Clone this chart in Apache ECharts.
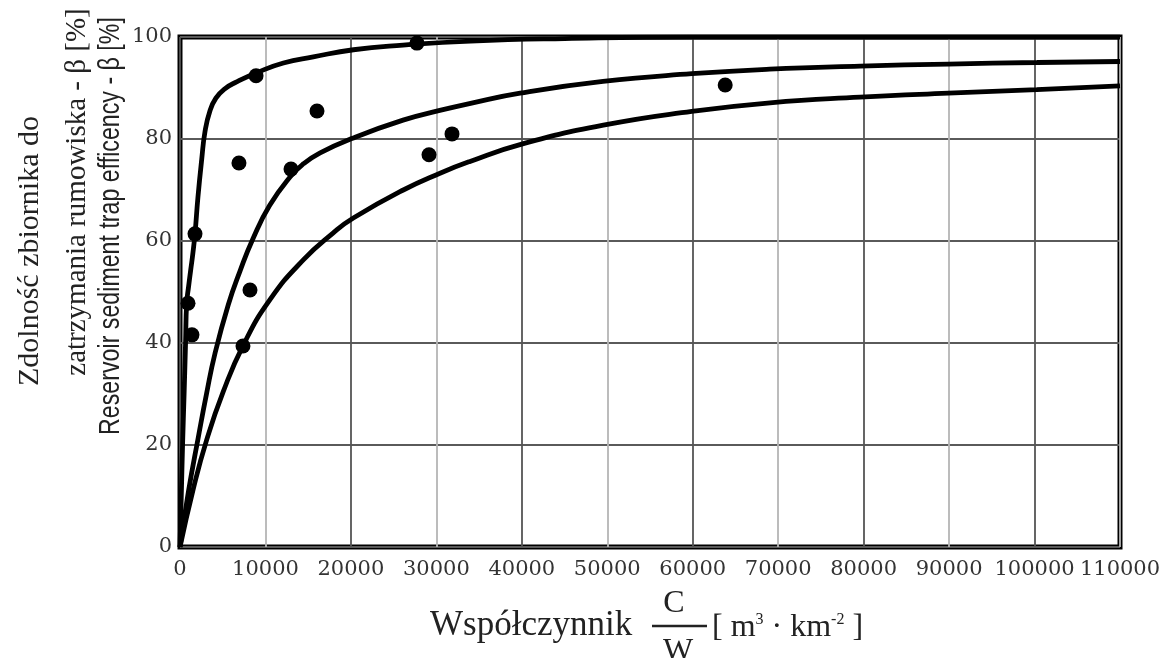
<!DOCTYPE html>
<html>
<head>
<meta charset="utf-8">
<script src="https://cdn.jsdelivr.net/npm/echarts@6/dist/echarts.min.js"></script>
<style>
  html, body { margin: 0; padding: 0; background: #fff; }
  #main { width: 1174px; height: 658px; }
</style>
</head>
<body>
<div id="main"></div>
<script>
// wartosci: [C/W, beta %]
var curveA = [[0,0],[150,10],[300,20],[480,30],[650,40],[780,47.8],[1000,51],[1250,54.3],[1500,57.5],[1755,61.4],
  [2100,68.6],[2540,76],[2930,81.5],[3500,85.5],[4200,88],[5200,89.8],[6630,91.2],[8970,93],[12100,94.9],
  [15600,96.1],[20300,97.5],[26100,98.4],[34000,99.2],[45000,99.7],[60000,100],[110000,100]];
var curveB = [[0,0],[1000,11],[2140,21.5],[3100,30],[4100,38],[5650,47.5],[7000,54],[8550,60.5],[10500,67],
  [12900,72.6],[14500,75.2],[16400,77.3],[20100,80.1],[26100,83.7],[30400,85.6],[34000,87],[39800,89],[49500,91.3],
  [59900,92.8],[69000,93.7],[79600,94.3],[89900,94.7],[100300,95],[110000,95.2]];
var curveC = [[0,0],[1500,11],[3120,21],[5070,30.5],[7410,39.6],[10530,48.5],[14430,56.3],[17940,61.6],
  [20280,64.5],[26130,70],[30430,73.3],[33940,75.6],[39790,78.9],[49540,82.7],[59880,85.4],[69050,87.1],
  [79580,88.2],[89910,89],[100260,89.7],[110000,90.4]];
var pomiary = [[936,47.8],[1400,41.6],[1755,61.4],[6900,75.3],[8900,92.4],[8190,50.4],[7370,39.4],
  [12990,74.1],[16030,85.5],[27730,98.8],[29140,76.9],[31830,81.0],[63800,90.6]];

var xMax = 110000, xStep = 10000;
var yMax = 100, yStep = 20;

var myChart = echarts.init(document.getElementById('main'));

function linia(dane){
  return {
    type: 'line',
    data: dane,
    symbol: 'none',
    smooth: 0.5,
    lineStyle: { color: '#000', width: 4.8 },
    z: 3
  };
}

var tekst = '#222';

var option = {
  backgroundColor: '#fff',
  animation: false,
  grid: { left: 180, right: 54, top: 37, bottom: 111, show: true, borderColor: '#000', borderWidth: 5 },
  xAxis: {
    type: 'value', min: 0, max: xMax, interval: xStep,
    axisLine: { show: false }, axisTick: { show: false },
    axisLabel: { margin: 12, color: '#333', fontFamily: 'DejaVu Serif', fontSize: 21,
      formatter: function(v){ return String(v); } },
    splitLine: { lineStyle: { color: ['#555', '#b5b5b5'], width: 1.8 } }
  },
  yAxis: {
    type: 'value', min: 0, max: yMax, interval: yStep,
    axisLine: { show: false }, axisTick: { show: false },
    axisLabel: { margin: 8, color: '#333', fontFamily: 'DejaVu Serif', fontSize: 21 },
    splitLine: { lineStyle: { color: '#5a5a5a', width: 1.8 } }
  },
  series: [
    linia(curveA),
    linia(curveB),
    linia(curveC),
    {
      type: 'scatter',
      data: pomiary,
      symbolSize: 15,
      itemStyle: { color: '#000', opacity: 1 },
      z: 4
    }
  ],
  graphic: [
    // tytul osi Y - trzy linie
    { type: 'text', x: 30, y: 251, rotation: Math.PI / 2,
      style: { text: 'Zdolność zbiornika do', font: '30px "Liberation Serif"', fill: tekst, align: 'center', verticalAlign: 'middle' } },
    { type: 'text', x: 77, y: 192, rotation: Math.PI / 2,
      style: { text: 'zatrzymania rumowiska - β [%]', font: '29px "Liberation Serif"', fill: tekst, align: 'center', verticalAlign: 'middle' } },
    { type: 'text', x: 111, y: 226, rotation: Math.PI / 2, scaleX: 0.8,
      style: { text: 'Reservoir sediment trap efficency - β [%]', font: '29px "Liberation Sans"', fill: tekst, align: 'center', verticalAlign: 'middle' } },
    // tytul osi X
    { type: 'text', x: 430, y: 626,
      style: { text: 'Współczynnik', font: '35px "Liberation Serif"', fill: tekst, align: 'left', verticalAlign: 'middle' } },
    { type: 'text', x: 674, y: 604,
      style: { text: 'C', font: '32px "Liberation Serif"', fill: tekst, align: 'center', verticalAlign: 'middle' } },
    { type: 'line', shape: { x1: 652, y1: 626, x2: 707, y2: 626 }, style: { stroke: tekst, lineWidth: 2.5 } },
    { type: 'text', x: 678, y: 652,
      style: { text: 'W', font: '32px "Liberation Serif"', fill: tekst, align: 'center', verticalAlign: 'middle' } },
    { type: 'text', x: 712, y: 628,
      style: {
        text: '{n|[ m}{s|3}{n| · km}{s|-2}{n| ]}',
        align: 'left', verticalAlign: 'middle',
        rich: {
          n: { font: '32px "Liberation Serif"', fill: tekst, verticalAlign: 'bottom' },
          s: { font: '16px "Liberation Serif"', fill: tekst, verticalAlign: 'top', padding: [0, 0, 14, 0] }
        }
      } }
  ]
};

myChart.setOption(option);
</script>
</body>
</html>
